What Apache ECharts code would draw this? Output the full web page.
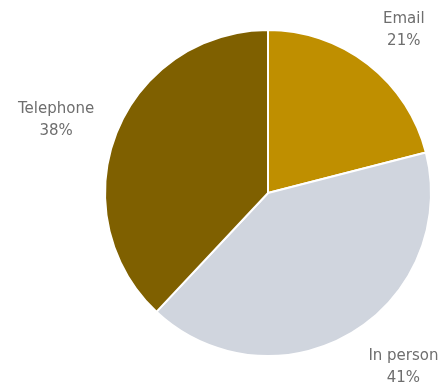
<!DOCTYPE html>
<html>
<head>
<meta charset="utf-8">
<script src="https://cdn.jsdelivr.net/npm/echarts@6/dist/echarts.min.js"></script>
<style>
  html, body { margin: 0; padding: 0; background: #ffffff; }
  #chart { width: 448px; height: 389px; }
</style>
</head>
<body>
<div id="chart"></div>
<script>
// Contact channel shares (percent)
const categories = ['Email', 'In person', 'Telephone'];
const shares = [21, 41, 38];
const sliceColors = ['#BF8F00', '#D0D5DE', '#7F6000'];

const CX = 268, CY = 193, R = 163;
const LABEL_DIST = 215;

// Mid-angle of each slice, measured clockwise from 12 o'clock
const total = shares.reduce((a, b) => a + b, 0);
const midAngles = [];
let acc = 0;
shares.forEach(v => {
  midAngles.push(((acc + v / 2) / total) * 2 * Math.PI);
  acc += v;
});

// Per-label nudges so each text block sits clear of the rim and the frame
const labelNudge = [[4, 7], [26, -11], [-12, 6]];

const chart = echarts.init(document.getElementById('chart'), null, { renderer: 'canvas' });
chart.setOption({
  backgroundColor: '#ffffff',
  animation: false,
  series: [{
    type: 'pie',
    center: [CX, CY],
    radius: [0, R],
    startAngle: 90,
    clockwise: true,
    avoidLabelOverlap: false,
    data: categories.map((name, i) => ({
      name,
      value: shares[i],
      itemStyle: { color: sliceColors[i] }
    })),
    itemStyle: { borderColor: '#ffffff', borderWidth: 2 },
    label: {
      show: true,
      position: 'outside',
      formatter: p => p.name + '\n' + p.value + '%',
      fontFamily: 'DejaVu Sans',
      fontSize: 15,
      lineHeight: 22,
      color: '#6e6e6e',
      align: 'center'
    },
    labelLine: { show: false },
    labelLayout: function (params) {
      const i = params.dataIndex;
      const a = midAngles[i];
      return {
        x: CX + LABEL_DIST * Math.sin(a) + labelNudge[i][0],
        y: CY - LABEL_DIST * Math.cos(a) + labelNudge[i][1],
        align: 'center',
        verticalAlign: 'middle'
      };
    },
    emphasis: { disabled: true }
  }]
});
</script>
</body>
</html>
